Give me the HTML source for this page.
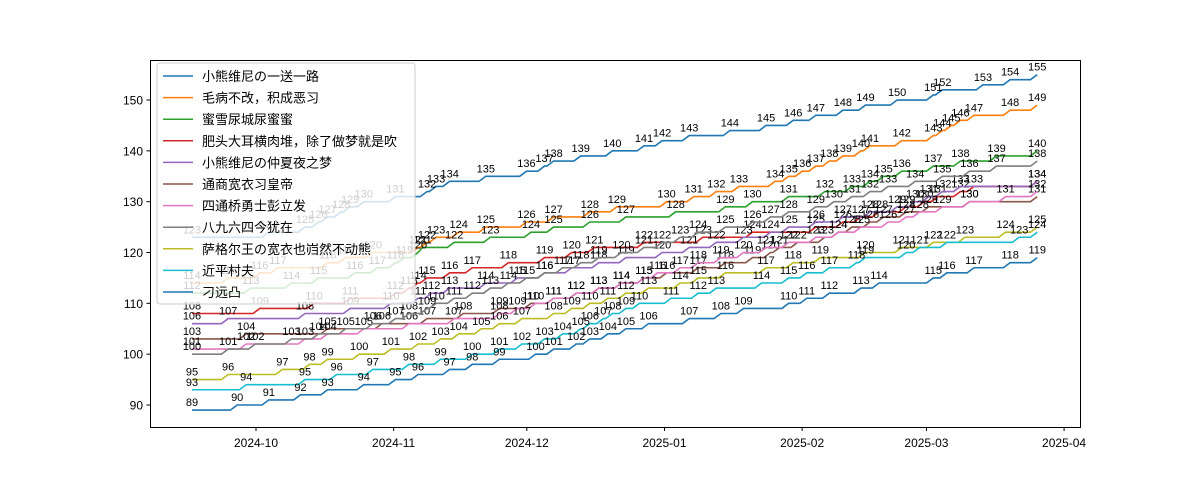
<!DOCTYPE html>
<html><head><meta charset="utf-8"><style>
html,body{margin:0;padding:0;background:#fff;width:1200px;height:480px;overflow:hidden}
svg text{font-family:"Liberation Sans","Noto Sans CJK SC",sans-serif}
</style></head><body>
<svg id="chart" width="1200" height="480" xmlns="http://www.w3.org/2000/svg"></svg>
<script>
const names = ["小熊维尼の一送一路","毛病不改，积成恶习","蜜雪尿城尿蜜蜜","肥头大耳横肉堆，除了做梦就是吹","小熊维尼の仲夏夜之梦","通商宽衣习皇帝","四通桥勇士彭立发","八九六四今犹在","萨格尔王の宽衣也岿然不动熊","近平村夫","刁远凸"];
const colors = ["#1f77b4","#ff7f0e","#2ca02c","#d62728","#9467bd","#8c564b","#e377c2","#7f7f7f","#bcbd22","#17becf","#1f77b4"];
const startVals = [123,114,112,108,106,103,101,100,95,93,89];
const days0 = [0,17,25,28,30,33,35,38,45,52,54,57,65,74,78,80,86,93,100,104,110,119,127,133,138,144,149,156,164,166,175,181,187];
const days1 = [0,8,15,19,30,34,40,50,52,54,59,65,74,80,88,94,105,111,116,121,129,132,135,138,141,144,148,150,157,164,166,168,170,173,181,187];
const days2 = [0,13,22,28,36,41,45,47,50,51,58,66,75,80,88,96,107,118,124,132,140,146,150,153,157,164,170,178,187];
const days3 = [0,15,27,35,45,48,50,52,57,62,70,78,84,89,100,113,124,138,144,148,152,158,162,165,170,173,187];
const days4 = [0,8,25,35,44,50,53,57,65,72,78,84,90,96,104,110,116,122,128,132,138,144,150,156,160,163,166,170,187];
const days5 = [0,12,30,42,52,60,68,75,80,85,90,95,100,105,112,118,124,128,130,134,140,143,146,150,153,158,163,172,187];
const days6 = [0,12,25,30,38,48,58,68,72,76,80,85,90,95,100,103,108,112,117,122,127,132,138,143,148,154,158,161,166,172,180,187];
const days7 = [0,8,14,22,28,34,40,45,48,52,54,58,62,66,70,74,78,82,86,90,95,100,104,108,112,118,124,128,132,138,142,146,150,154,160,166,172,178,187];
const days8 = [0,8,20,26,30,37,44,50,55,59,64,68,73,80,84,88,92,96,101,108,112,118,127,133,139,149,157,164,171,180,187];
const days9 = [0,12,25,32,40,48,55,62,68,73,78,82,86,88,91,93,96,99,106,112,116,126,132,136,141,147,149,158,161,167,183,187];
const days10 = [0,10,17,24,30,38,45,50,57,62,68,76,80,85,88,92,96,101,110,117,122,132,136,141,148,152,164,167,173,181,187];
const dayArrays = [days0,days1,days2,days3,days4,days5,days6,days7,days8,days9,days10];
const monthLabels = ["2024-10","2024-11","2024-12","2025-01","2025-02","2025-03","2025-04"];
const monthDays = [14,45,75,106,137,165,196];
const yTicks = [90,100,110,120,130,140,150];

const NS="http://www.w3.org/2000/svg";
const svg=document.getElementById('chart');
const X0=150,X1=1080,Y0=60,Y1=427;
const xs=d=>192+d*4.52;
const xt=d=>256+(d-14)*4.44;
const ys=v=>405-(v-90)*5.083;
function mk(t,a,p){const e=document.createElementNS(NS,t);for(const k in a)e.setAttribute(k,a[k]);(p||svg).appendChild(e);return e;}

const frame=mk('rect',{x:X0+0.5,y:Y0+0.5,width:X1-X0,height:Y1-Y0,fill:'none',stroke:'#000','stroke-width':1});



monthLabels.forEach((m,i)=>{
  const x=xt(monthDays[i]);
  const g=mk('g',{});
  
  
  mk('line',{x1:x,x2:x,y1:Y1+0.5,y2:Y1+4,stroke:'#000'},g);
  const t=mk('text',{x:x,y:Y1+20,'font-size':12,'text-anchor':'middle'},g);t.textContent=m;
});
yTicks.forEach(v=>{
  const y=ys(v);
  const g=mk('g',{});
  
  
  mk('line',{x1:X0-3.5,x2:X0+0.5,y1:y,y2:y,stroke:'#000'},g);
  const t=mk('text',{x:X0-7,y:y+4.5,'font-size':12,'text-anchor':'end'},g);t.textContent=v;
});

dayArrays.forEach((ds,s)=>{
  const g=mk('g',{});
  
  
  let pts=[[xs(ds[0]),ys(startVals[s])]];
  for(let i=1;i<ds.length;i++){
    const v=startVals[s]+i;
    const dPrev=Math.max(ds[i-1],ds[i]-1.5);
    pts.push([xs(dPrev),ys(v-1)]);
    pts.push([xs(ds[i]),ys(v)]);
  }
  const p=mk('polyline',{points:pts.map(p=>p.join(',')).join(' '),fill:'none',stroke:colors[s],'stroke-width':1.6},g);
  
  
  ds.forEach((d,i)=>{
    const t=mk('text',{x:xs(d),y:ys(startVals[s]+i)-4,'font-size':11,'text-anchor':'middle',fill:'#000'},g);
    t.textContent=startVals[s]+i;
  });
});

const lg=mk('g',{});


mk('rect',{x:157,y:63,width:258,height:241,rx:3,fill:'#fff','fill-opacity':0.8,stroke:'#ccc'},lg);
names.forEach((n,i)=>{
  const y=76+i*21.6;
  const e=mk('g',{},lg);
  
  
  mk('line',{x1:163,x2:193,y1:y,y2:y,stroke:colors[i],'stroke-width':1.5},e);
  const t=mk('text',{x:202,y:y+5,'font-size':13},e);t.textContent=n;
});
</script>
</body></html>
